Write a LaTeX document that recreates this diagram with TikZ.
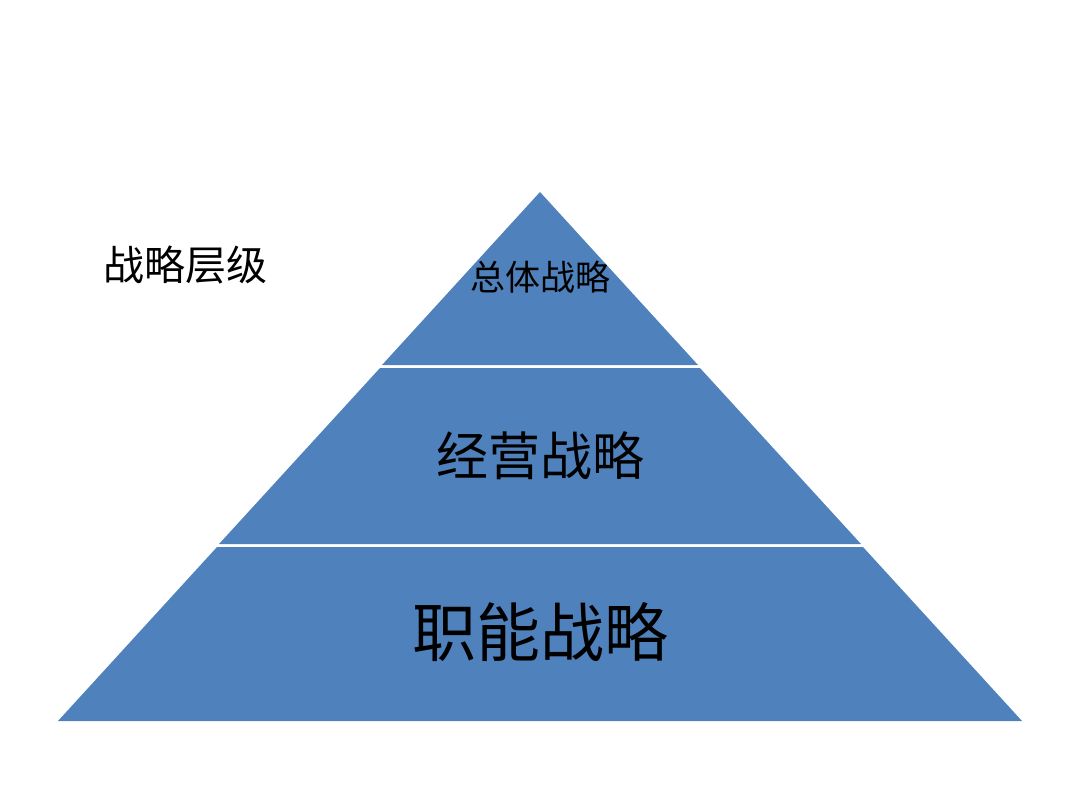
\documentclass[tikz,border=0pt]{standalone}
\usepackage{fontspec}
\newfontfamily\cjk{Noto Sans CJK SC}
\usetikzlibrary{positioning}
\definecolor{layerblue}{HTML}{4F81BD}

\begin{document}
\begin{tikzpicture}[x=0.5pt,y=-0.5pt,
  layer/.style={fill=layerblue,draw=none},
  lbl/.style={text=black,inner sep=0pt}]
\useasboundingbox (0,0) rectangle (1080,810);
%\draw[help lines] (0,0) grid[step=100] (1080,810);
% the three layers
\fill[layer] (540,192)--(698,365)--(382,365)--cycle;
\fill[layer] (380,368)--(700,368)--(861,544)--(219,544)--cycle;
\fill[layer] (217,547)--(863,547)--(1022,721)--(58,721)--cycle;
%
\node[lbl,font={\cjk\fontsize{20.5}{24}\selectfont}] (title) at (185,265) {战略层级};
\foreach \name/\pos/\size/\txt in {top/277/17.5/总体战略,mid/456/26/经营战略,low/632/32/职能战略}
\node[lbl,font={\cjk\fontsize{\size}{\size}\selectfont}] (\name) at (540,\pos) {\txt};
\end{tikzpicture}
\end{document}
